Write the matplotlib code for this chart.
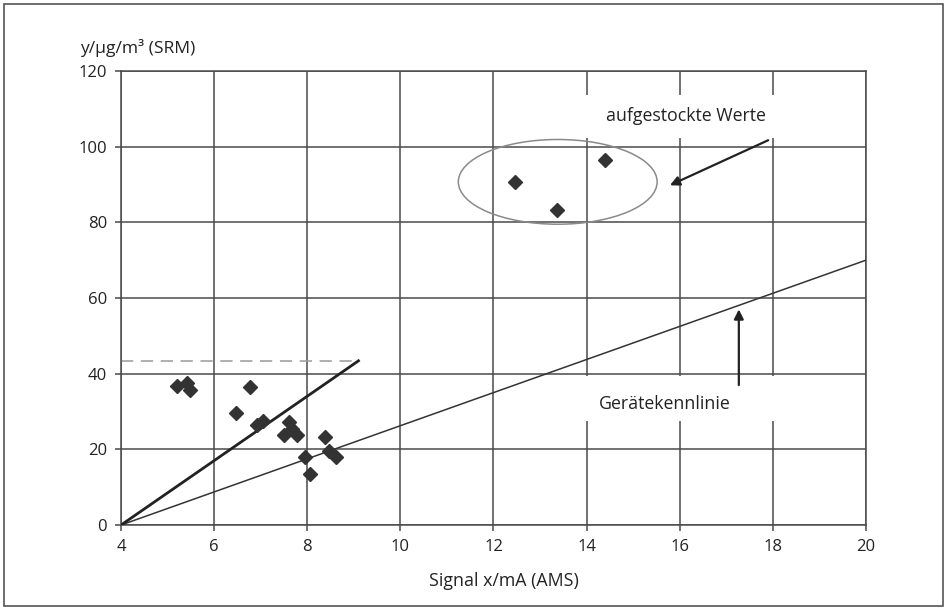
import matplotlib.pyplot as plt
from matplotlib.patches import Ellipse, Rectangle

plt.rcParams['font.family'] = ['Open Sans', 'DejaVu Sans']

# Messwerte (Signal in mA, Konzentration in µg/m³)
x_mess = [5.20, 5.42, 5.48, 6.76, 6.48, 6.91, 7.06, 7.61, 7.67, 7.49, 7.77, 7.95, 8.06, 8.38, 8.47, 8.61]
y_mess = [36.8, 37.6, 35.7, 36.5, 29.7, 26.4, 27.6, 27.3, 25.5, 23.8, 23.8, 18.0, 13.4, 23.2, 19.6, 17.9]

# aufgestockte Werte
x_auf = [12.47, 13.36, 14.40]
y_auf = [90.6, 83.2, 96.6]

# Gerätekennlinie und Regressionsgerade
kennlinie_x = [4, 20]
kennlinie_y = [0, 70]
regression_x = [4, 9.1]
regression_y = [0, 43.4]
y_max_mess = 43.4

x_ticks = [4, 6, 8, 10, 12, 14, 16, 18, 20]
y_ticks = [0, 20, 40, 60, 80, 100, 120]

grid_col = '#4a4a4a'
text_col = '#222222'

fig = plt.figure(figsize=(9.47, 6.10), dpi=100)
ax = fig.add_axes([0.1278, 0.1393, 0.7866, 0.7443])

ax.set_xlim(4, 20)
ax.set_ylim(0, 120)
ax.set_xticks(x_ticks)
ax.set_yticks(y_ticks)
ax.set_axisbelow(True)
ax.grid(True, color=grid_col, linewidth=1.1)
for s in ax.spines.values():
    s.set_color(grid_col)
    s.set_linewidth(1.1)
ax.tick_params(direction='out', length=4, width=1.1, color=grid_col,
               labelsize=12, labelcolor=text_col, pad=6)

# weiße Hinterlegung der Beschriftungen
ax.add_patch(Rectangle((13.75, 102.3), 4.6, 11.4, facecolor='white', edgecolor='none', zorder=1))
ax.add_patch(Rectangle((13.75, 27.4), 4.6, 12.0, facecolor='white', edgecolor='none', zorder=1))

ax.plot(kennlinie_x, kennlinie_y, color='#333333', linewidth=1.1, zorder=3)
ax.plot(regression_x, regression_y, color='#222222', linewidth=2.0, zorder=3)
ax.plot([regression_x[0], regression_x[1]], [y_max_mess, y_max_mess],
        color='#9a9a9a', linewidth=1.1, dashes=(8, 5), zorder=2)

ax.plot(x_mess, y_mess, linestyle='none', marker='D', markersize=7.5,
        color='#333333', zorder=4)
ax.plot(x_auf, y_auf, linestyle='none', marker='D', markersize=7.5,
        color='#333333', zorder=4)

ax.add_patch(Ellipse((13.38, 90.7), 4.27, 22.4, fill=False,
                     edgecolor='#8a8a8a', linewidth=1.1, zorder=3))

ax.text(14.42, 108, 'aufgestockte Werte', fontsize=12.8, color=text_col,
        va='center', ha='left', zorder=5)
ax.annotate('', xy=(15.79, 89.8), xytext=(17.9, 101.7),
            arrowprops=dict(arrowstyle='-|>', color=text_col, lw=1.6,
                            mutation_scale=14, shrinkA=0, shrinkB=0), zorder=5)

ax.text(14.27, 32.0, 'Gerätekennlinie', fontsize=12.8, color=text_col,
        va='center', ha='left', zorder=5)
ax.annotate('', xy=(17.27, 57.0), xytext=(17.27, 37.0),
            arrowprops=dict(arrowstyle='-|>', color=text_col, lw=1.6,
                            mutation_scale=14, shrinkA=0, shrinkB=0), zorder=5)

fig.text(80 / 947, 1 - 48 / 610, 'y/µg/m³ (SRM)', fontsize=12.6,
         color=text_col, ha='left', va='center')
fig.text(504 / 947, 1 - 581 / 610, 'Signal x/mA (AMS)', fontsize=12.8,
         color=text_col, ha='center', va='center')

# Rahmen um die ganze Abbildung
fig.patches.append(Rectangle((4 / 947, 4 / 610), 939 / 947, 602 / 610,
                             transform=fig.transFigure, fill=False,
                             edgecolor='#555555', linewidth=1.2))

fig.savefig('out.png', dpi=100)
